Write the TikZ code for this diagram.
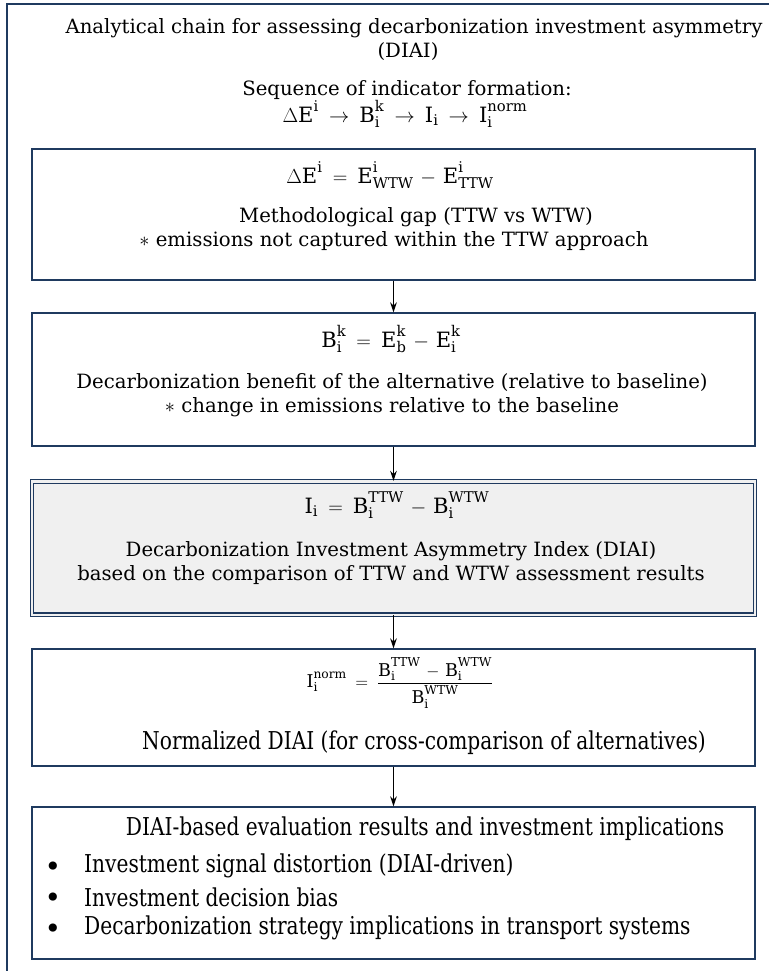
\documentclass[tikz,border=0pt]{standalone}
\usepackage{fontspec}
\setmainfont{DejaVu Serif}
\newfontfamily\narrowfont[FakeStretch=0.82]{DejaVu Serif}
\usetikzlibrary{arrows.meta}
\definecolor{boxblue}{HTML}{1F3A5F}
\definecolor{boxgray}{HTML}{F0F0F0}
\newcommand{\rmv}[1]{\mathrm{#1}}
\thickmuskip=9mu plus 5mu
\medmuskip=6mu plus 2mu minus 4mu

\begin{document}
\begin{tikzpicture}[
  x=0.03cm, y=-0.03cm,
  stage/.style={draw=boxblue, line width=1.2pt, minimum width=21.69cm, inner sep=0pt},
  txt/.style={inner sep=0pt, align=center, font=\fontsize{16.8}{20.6}\selectfont},
  eqtxt/.style={inner sep=0pt, font=\fontsize{18}{22}\selectfont},
  ntxt/.style={inner sep=0pt, font=\fontsize{21}{25}\selectfont\narrowfont},
  flow/.style={-{Stealth[length=3mm,width=2mm]}, line width=1.2pt}
]
  \useasboundingbox (0,0) rectangle (769,971);
  \draw[boxblue, line width=1.5pt] (7,971) -- (7,4) -- (769,4);

  % heading
  \node[txt] (title1) at (414,28) {Analytical chain for assessing decarbonization investment asymmetry};
  \node[txt] (title2) at (408,52) {(DIAI)};
  \node[txt] (seq) at (407,90) {Sequence of indicator formation:};
  \node[eqtxt] (seqf) at (405,114) {$\Delta\rmv{E}^{\rmv{i}} \to \rmv{B}_{\rmv{i}}^{\rmv{k}} \to \rmv{I}_{\rmv{i}} \to \rmv{I}_{\rmv{i}}^{\rmv{norm}}$};

  % stages
  \node[stage, minimum height=3.93cm] (gap) at (393.5,214.5) {};
  \node[stage, minimum height=3.99cm] (benefit) at (393.5,379.5) {};
  \node[stage, minimum height=4.0cm, fill=boxgray, double=boxgray, double distance=0.07cm, line width=0.9pt] (diai) at (393.5,548) {};
  \node[stage, minimum height=3.51cm] (norm) at (393.5,707.5) {};
  \node[stage, minimum height=4.56cm] (result) at (393.5,883) {};

  \draw[flow] (gap) -- (benefit);
  \draw[flow] (benefit) -- (diai);
  \draw[flow] (diai) -- (norm);
  \draw[flow] (norm) -- (result);

  % texts of the stages
  \node[eqtxt] (gapeq) at (390,175) {$\Delta\rmv{E}^{\rmv{i}} = \rmv{E}_{\rmv{WTW}}^{\rmv{i}} - \rmv{E}_{\rmv{TTW}}^{\rmv{i}}$};
  \node[txt] (gap1) at (416,217) {Methodological gap (TTW vs WTW)};
  \node[txt] (gap2) at (394,241) {$\ast$ emissions not captured within the TTW approach};

  \node[eqtxt] (beneq) at (391,339) {$\rmv{B}_{\rmv{i}}^{\rmv{k}} = \rmv{E}_{\rmv{b}}^{\rmv{k}} - \rmv{E}_{\rmv{i}}^{\rmv{k}}$};
  \node[txt] (ben) at (392,395) {Decarbonization benefit of the alternative (relative to baseline)\\
    $\ast$ change in emissions relative to the baseline};

  \node[eqtxt] (diaieq) at (397,505) {$\rmv{I}_{\rmv{i}} = \rmv{B}_{\rmv{i}}^{\rmv{TTW}} - \rmv{B}_{\rmv{i}}^{\rmv{WTW}}$};
  \node[txt] (diaitxt) at (391,563) {Decarbonization Investment Asymmetry Index (DIAI)\\
    based on the comparison of TTW and WTW assessment results};

  \node[inner sep=0pt, font=\fontsize{15}{18}\selectfont] (normeq) at (400,683) {$\rmv{I}_{\rmv{i}}^{\rmv{norm}} = \displaystyle\frac{\rmv{B}_{\rmv{i}}^{\rmv{TTW}} - \rmv{B}_{\rmv{i}}^{\rmv{WTW}}}{\rmv{B}_{\rmv{i}}^{\rmv{WTW}}}$};
  \node[ntxt] (norm1) at (424,743) {Normalized DIAI (for cross-comparison of alternatives)};

  \node[ntxt] (res0) at (425,829) {DIAI-based evaluation results and investment implications};
  \foreach \y/\t [count=\k] in {866/Investment signal distortion (DIAI-driven),
                                897/Investment decision bias,
                                928/Decarbonization strategy implications in transport systems} {
    \node[ntxt, font=\fontsize{24}{26}\selectfont] (dot\k) at (53,\y+3) {•};
    \node[ntxt, anchor=west] (res\k) at (84,\y) {\t};
  }
\end{tikzpicture}
\end{document}
